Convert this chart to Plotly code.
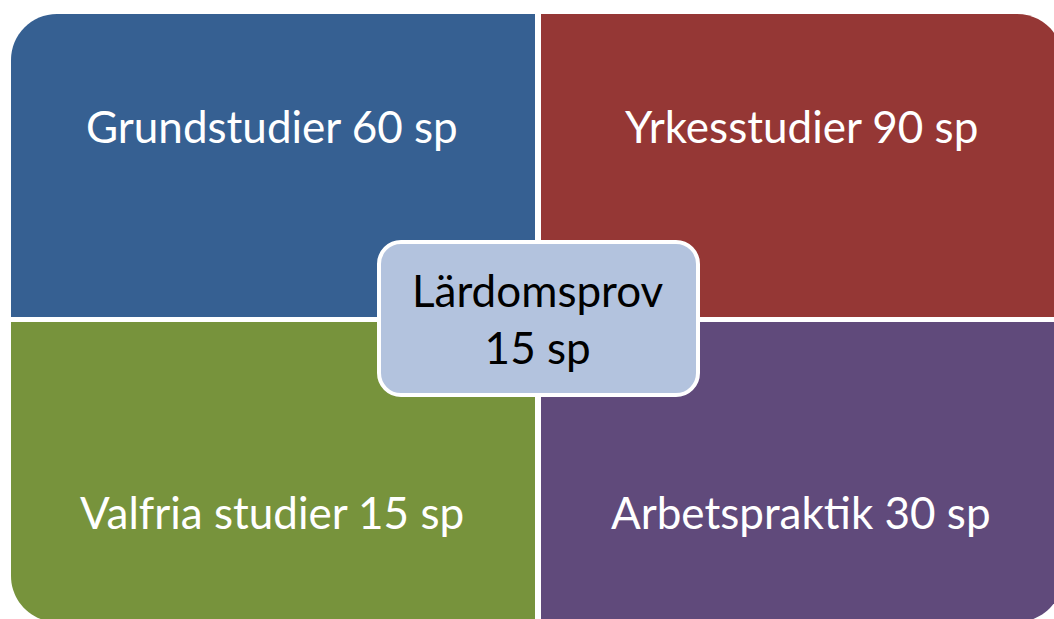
import plotly.graph_objects as go

# Data
quadrant_names = ["Grundstudier", "Yrkesstudier", "Valfria studier", "Arbetspraktik"]
quadrant_credits = [60, 90, 15, 30]
center_name = "Lärdomsprov"
center_credits = 15
unit = "sp"

# Styles
quad_colors = ["#366092", "#953735", "#77933C", "#604A7B"]
center_fill = "#B3C3DE"

W, H = 1054, 619
K = 0.5523


def rounded_path(x0, y0, x1, y1, r, corners):
    tl = r if "tl" in corners else 0
    tr = r if "tr" in corners else 0
    br = r if "br" in corners else 0
    bl = r if "bl" in corners else 0
    p = f"M {x0 + tl},{y0} L {x1 - tr},{y0} "
    if tr:
        p += f"C {x1 - tr + K * tr},{y0} {x1},{y0 + tr - K * tr} {x1},{y0 + tr} "
    p += f"L {x1},{y1 - br} "
    if br:
        p += f"C {x1},{y1 - br + K * br} {x1 - br + K * br},{y1} {x1 - br},{y1} "
    p += f"L {x0 + bl},{y1} "
    if bl:
        p += f"C {x0 + bl - K * bl},{y1} {x0},{y1 - bl + K * bl} {x0},{y1 - bl} "
    p += f"L {x0},{y0 + tl} "
    if tl:
        p += f"C {x0},{y0 + tl - K * tl} {x0 + tl - K * tl},{y0} {x0 + tl},{y0} "
    p += "Z"
    return p


quad_boxes = [
    (11, 14, 535, 317, ["tl"]),
    (541, 14, 1063, 317, ["tr"]),
    (11, 322, 535, 622, ["bl"]),
    (541, 322, 1063, 622, ["br"]),
]
label_pos = [(272, 126), (801, 126), (272, 512), (801, 512)]

shapes = []
for (x0, y0, x1, y1, c), col in zip(quad_boxes, quad_colors):
    shapes.append(dict(type="path", path=rounded_path(x0, y0, x1, y1, 46, c),
                       xref="x", yref="y", fillcolor=col, line=dict(width=0), layer="below"))

shapes.append(dict(type="path",
                   path=rounded_path(379, 242, 698, 395, 22, ["tl", "tr", "br", "bl"]),
                   xref="x", yref="y", fillcolor=center_fill,
                   line=dict(color="white", width=4), layer="above"))

annotations = []
for name, cr, (x, y) in zip(quadrant_names, quadrant_credits, label_pos):
    annotations.append(dict(x=x, y=y, xref="x", yref="y", text=f"{name} {cr} {unit}",
                            showarrow=False, xanchor="center", yanchor="middle",
                            font=dict(family="Lato", size=44, color="white")))
annotations.append(dict(x=538, y=318, xref="x", yref="y",
                        text=f"{center_name}<br>{center_credits} {unit}",
                        showarrow=False, xanchor="center", yanchor="middle",
                        font=dict(family="Lato", size=44, color="black")))

fig = go.Figure()
fig.update_layout(
    width=W, height=H,
    margin=dict(l=0, r=0, t=0, b=0),
    paper_bgcolor="white", plot_bgcolor="white",
    xaxis=dict(range=[0, W], visible=False, fixedrange=True),
    yaxis=dict(range=[H, 0], visible=False, fixedrange=True),
    shapes=shapes, annotations=annotations, showlegend=False,
)
fig.write_html("out.html", post_script="document.body.style.margin='0px';",
               config={"displayModeBar": False})
